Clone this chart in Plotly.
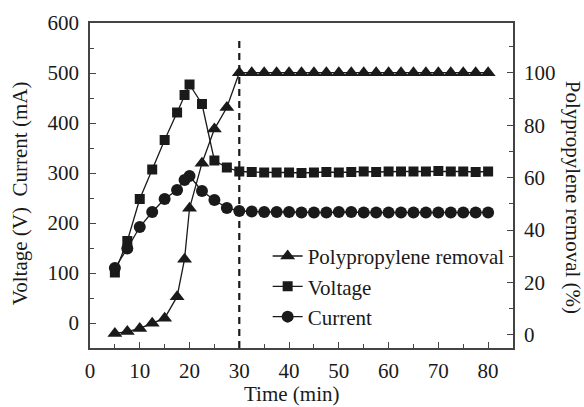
import plotly.graph_objects as go

# Time (min)
time_early = [5, 7.5, 10, 12.5, 15, 17.5, 19, 20, 22.5, 25, 27.5]
time_late = [30 + 2.5 * i for i in range(21)]
time = time_early + time_late

removal = [0.6, 1.3, 2.5, 4.5, 6.4, 14.6, 28.9, 48.3, 65.5, 78.5, 86.7] + [100] * 21
voltage = [101, 164, 248, 307, 366, 421, 456, 477, 438, 325, 311,
           303, 302, 301, 301, 301, 300, 301, 302, 301, 302, 303,
           302, 303, 303, 303, 303, 304, 303, 303, 302, 303]
current = [110, 149, 192, 222, 248, 266, 286, 294, 264, 246, 230,
           224, 223, 222, 222, 222, 221, 221, 221, 222, 222, 221,
           221, 221, 221, 221, 221, 221, 221, 221, 221, 221]

font_family = "Liberation Serif, Times New Roman, serif"
black = "#1a1a1a"
fs = 21

fig = go.Figure()
fig.add_trace(go.Scatter(x=time, y=removal, name="Polypropylene removal", yaxis="y2",
                         mode="lines+markers",
                         line=dict(color=black, width=1.3),
                         marker=dict(symbol="triangle-up", size=13, color=black)))
fig.add_trace(go.Scatter(x=time, y=voltage, name="Voltage",
                         mode="lines+markers",
                         line=dict(color=black, width=1.3),
                         marker=dict(symbol="square", size=10, color=black)))
fig.add_trace(go.Scatter(x=time, y=current, name="Current",
                         mode="lines+markers",
                         line=dict(color=black, width=1.3),
                         marker=dict(symbol="circle", size=12, color=black)))

fig.add_shape(type="line", x0=30, x1=30, y0=-50, y1=566, xref="x", yref="y",
              line=dict(color=black, width=2.2, dash="7px,5px"))

axis_common = dict(showgrid=False, zeroline=False, showline=True, linecolor="#444",
                   linewidth=1.5, ticks="inside", ticklen=6, tickcolor="#444",
                   tickfont=dict(family=font_family, size=fs, color=black))

fig.update_layout(
    width=584, height=407,
    margin=dict(l=90, r=71, t=23, b=59),
    paper_bgcolor="white", plot_bgcolor="white",
    font=dict(family=font_family, size=fs, color=black),
    xaxis=dict(range=[0, 85], dtick=10, tick0=0, mirror=True, ticklabelstandoff=3,
               minor=dict(dtick=5, ticks="inside", ticklen=4, tickcolor="#444"),
               **axis_common),
    yaxis=dict(range=[-50, 600], dtick=100, tick0=0, ticklabelstandoff=5,
               minor=dict(dtick=50, ticks="inside", ticklen=4, tickcolor="#444"),
               **axis_common),
    yaxis2=dict(range=[-4.96, 118.95], dtick=20, tick0=0, overlaying="y", side="right",
                ticklabelstandoff=5,
                minor=dict(dtick=10, ticks="inside", ticklen=4, tickcolor="#444"),
                **axis_common),
    showlegend=True,
    legend=dict(x=0.42, y=0.345, xanchor="left", yanchor="top",
                bgcolor="rgba(0,0,0,0)", borderwidth=0,
                font=dict(family=font_family, size=fs, color=black),
                tracegroupgap=0),
    annotations=[
        dict(text="Time (min)", xref="paper", yref="paper", x=0.477, y=-0.1415,
             xanchor="center", yanchor="middle", showarrow=False,
             font=dict(family=font_family, size=fs, color=black)),
        dict(text="Voltage (V)  Current (mA)", xref="paper", yref="paper", x=-0.165, y=0.477,
             xanchor="center", yanchor="middle", showarrow=False, textangle=-90,
             font=dict(family=font_family, size=fs, color=black)),
        dict(text="Polypropylene removal (%)", xref="paper", yref="paper", x=1.142, y=0.465,
             xanchor="center", yanchor="middle", showarrow=False, textangle=90,
             font=dict(family=font_family, size=fs, color=black)),
    ],
)

fig.write_html("out.html")
